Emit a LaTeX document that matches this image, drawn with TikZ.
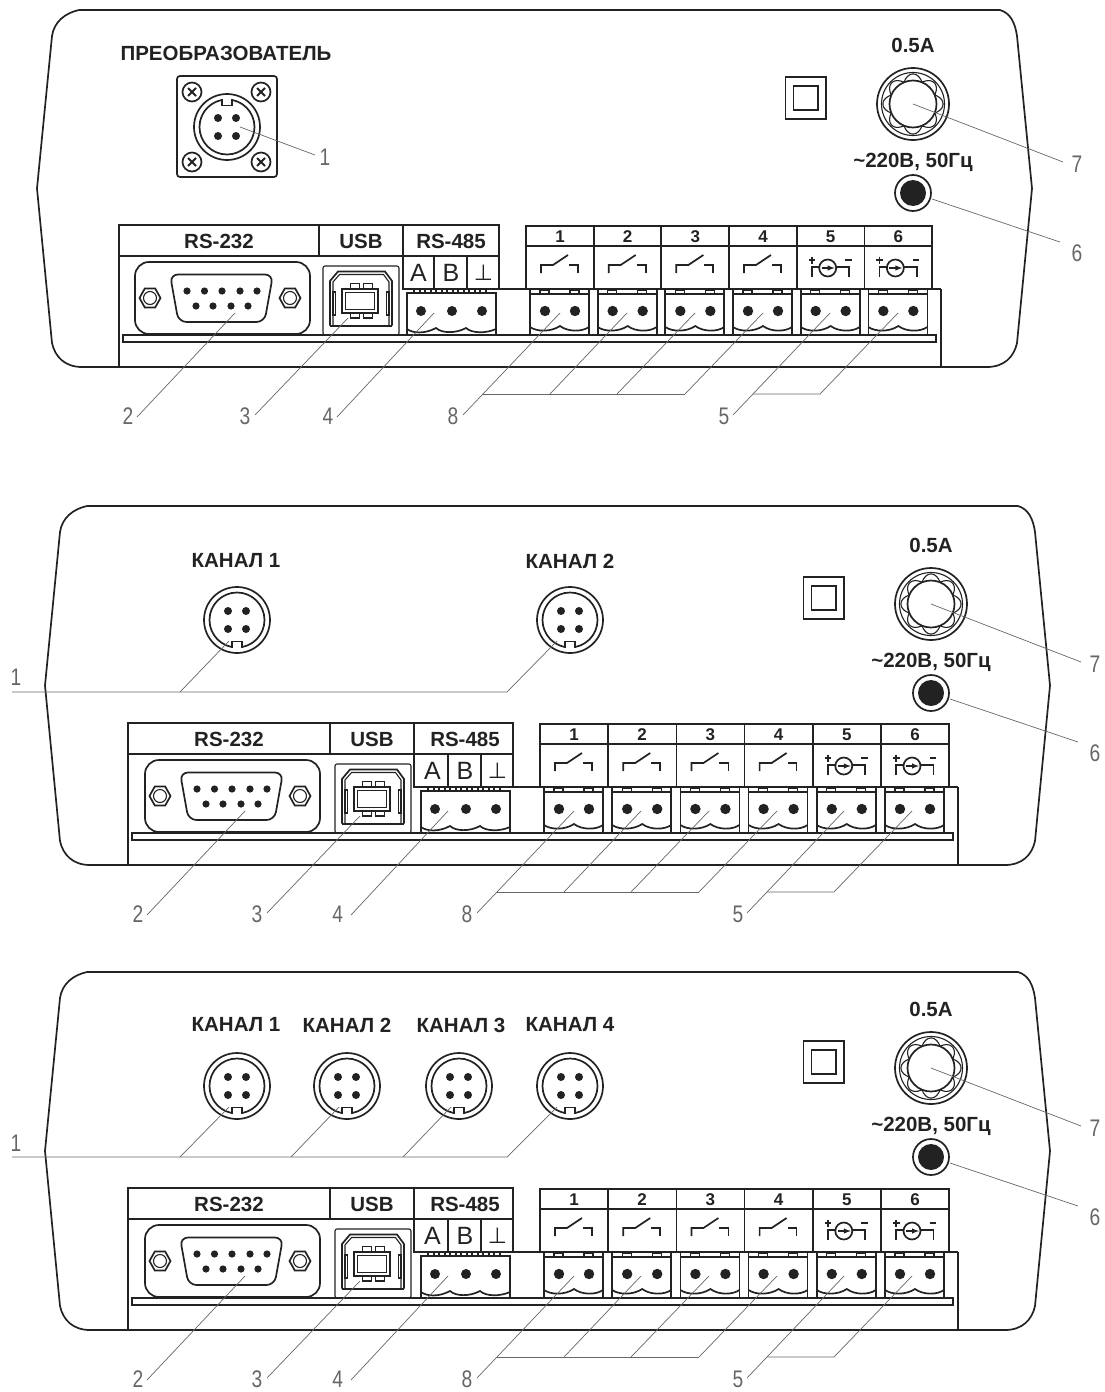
\documentclass[tikz,border=0pt]{standalone}
\usepackage{fontspec}
\setmainfont{Liberation Sans}
\newfontfamily\symf{DejaVu Sans}
\definecolor{ink}{HTML}{222222}
\definecolor{leadc}{HTML}{666666}
\tikzset{
  mainline/.style={line width=1.7pt,draw=ink},
  fineline/.style={line width=1.1pt,draw=ink},
  leadline/.style={line width=0.7pt,draw=leadc},
  pindot/.style={fill=ink,draw=none},
  titletxt/.style={font=\fontsize{20.5}{22}\selectfont\bfseries,text=ink,inner sep=0pt},
  hdrtxt/.style={font=\fontsize{20.5}{22}\selectfont\bfseries,text=ink,inner sep=0pt},
  cellnum/.style={font=\fontsize{17}{19}\selectfont\bfseries,text=ink,inner sep=0pt},
  celllet/.style={font=\fontsize{25}{27}\selectfont,text=ink,inner sep=0pt},
  numlab/.style={font=\fontsize{24}{26}\selectfont,text=leadc,inner sep=0pt,xscale=0.8},
}
% name, a, b, label position, text
\newcommand{\leader}[8]{%
  \coordinate (#1-a) at (#2,#3);
  \coordinate (#1-b) at (#4,#5);
  \node[numlab] (#1-t) at (#6,#7) {#8};
  \draw[leadline] (#1-a) -- (#1-b);
}
\newcommand{\panel}[4]{% xl ytop xr ybot
  \draw[line width=1.7pt,draw=ink]
    ({#1+42},#2) .. controls ({#1+28},{#2+3}) and ({#1+17},{#2+12}) .. ({#1+15},{#2+26})
    -- ({#1},{(#2+#4)/2})
    -- ({#1+15},{#4-24}) .. controls ({#1+18},{#4-10}) and ({#1+28},#4) .. ({#1+45},#4)
    -- ({#3-45},#4) .. controls ({#3-28},#4) and ({#3-18},{#4-10}) .. ({#3-15},{#4-24})
    -- ({#3},{(#2+#4)/2})
    -- ({#3-15},{#2+26}) .. controls ({#3-17},{#2+12}) and ({#3-22},{#2+3}) .. ({#3-32},#2)
    -- cycle;
}
\newcommand{\hexnut}[2]{%
  \begin{scope}[shift={(#1,#2)}]
    \draw[mainline] (-10.5,0) -- (-5.2,-9.5) -- (5.2,-9.5) -- (10.5,0) -- (5.2,9.5) -- (-5.2,9.5) -- cycle;
    \draw[fineline] (0,0) circle[radius=6.5];
  \end{scope}
}
\newcommand{\dsub}{%
  \draw[mainline,rounded corners=14pt] (135,262) rectangle (310,334);
  \draw[mainline,rounded corners=8pt] (170,274.5) -- (273,274.5) -- (264.5,322) -- (178.5,322) -- cycle;
  \hexnut{150}{298}\hexnut{290}{298}
  \foreach \px in {187,204.5,222,240,257} \fill[pindot] (\px,291) circle[radius=3.6];
  \foreach \px in {196,213,231,248} \fill[pindot] (\px,306) circle[radius=3.6];
}
\newcommand{\usbport}{%
  \draw[fineline,rounded corners=2pt] (323,266) rectangle (399,335);
  \draw[mainline] (330,325.5) -- (330,281) -- (338,271.5) -- (385,271.5) -- (392,281) -- (392,325.5);
  \draw[fineline] (333,325) -- (333,282) -- (339.5,274.5) -- (383.5,274.5) -- (389,282) -- (389,325);
  \draw[line width=2.2pt,draw=ink] (330,326) -- (392,326);
  \draw[line width=2.2pt,draw=ink] (342,289) rectangle (378,313);
  \draw[fineline] (345.5,292.5) rectangle (374.5,309.5);
  \foreach \ux in {350.5,363.5} {
    \draw[fineline] (\ux,283.5) rectangle ++(9,5.5);
    \draw[fineline] (\ux,313) rectangle ++(9,5);
  }
  \draw[fineline] (333,292) rectangle (335.5,315);
  \draw[fineline] (386.5,292) rectangle (389,315);
}
\newcommand{\termthree}{%
  \draw[mainline] (407,293) rectangle (496,335);
  \draw[mainline] (407,329) .. controls (413,333.5) and (425,334) .. (436,328)
     .. controls (442,333.5) and (456,333.5) .. (466,328)
     .. controls (472,333.5) and (486,333.5) .. (496,329);
  \foreach \tx in {414,425,436,447,458,469,480} \draw[fineline] (\tx,289.5) rectangle ++(6,3.5);
  \foreach \tx in {421,452,482} \fill[pindot] (\tx,311) circle[radius=5];
}
\newcommand{\termtwo}{% at first column, panel 1 coordinates
  \draw[mainline] (530,289) -- (530,335) -- (589,335) -- (589,289);
  \draw[mainline] (530,294) -- (589,294);
  \draw[mainline] (530,327) .. controls (537,332) and (551,332) .. (560,326)
     .. controls (568,332) and (582,332) .. (589,327);
  \draw[fineline] (540,290) rectangle ++(9,4);
  \draw[fineline] (570,290) rectangle ++(9,4);
  \fill[pindot] (545,311) circle[radius=5.2];
  \fill[pindot] (575,311) circle[radius=5.2];
}
\newcommand{\relaysym}{% local to cell top-left at y=246
  \draw[mainline] (15,27) -- (15,19) -- (27,19) -- (42,9);
  \draw[mainline] (43,19) -- (52,19) -- (52,27);
}
\newcommand{\csrcsym}{%
  \draw[mainline] (31,22) circle[radius=8.5];
  \draw[mainline] (15,31) -- (15,21) -- (22.5,21);
  \draw[mainline] (39.5,21) -- (52.5,21) -- (52.5,31);
  \draw[line width=1.4pt,draw=ink,-latex] (25,22) -- (38,22);
  \draw[line width=1.8pt,draw=ink] (12,14) -- (18.5,14) (15.2,10.5) -- (15.2,17.5);
  \draw[line width=1.8pt,draw=ink] (48.5,14) -- (55,14);
}
% #1 dy, #2 left edge, #3 split RS232/USB, #4 dsub dx, #5 usb dx, #6 dx, #7 right edge, #8 prefix
% uses \rsleft (left edge of the RS-485 box, panel coordinates) and \cstep (cell pitch)
\newcommand{\ioblock}[8]{%
\begin{scope}[shift={(0,#1)}]
  \draw[mainline] (#2,367) -- (#2,225) -- (#3,225);
  \draw[mainline] (#2,256) -- (#3,256) (#3,225) -- (#3,256);
  \node[hdrtxt] (#8-hr) at ({(#2+#3)/2},241) {RS-232};
  \begin{scope}[shift={(#4,0)}]\dsub\end{scope}
  \begin{scope}[shift={(#5,0)}]\usbport\end{scope}
  \draw[mainline] (#3,225) -- (\rsleft,225) (#3,256) -- (\rsleft,256);
  \draw[mainline,line width=1.8pt] ({#2+4},335) rectangle ({#7-5},342);
  \draw[mainline] (#7,367) -- (#7,289);
  \node[hdrtxt] (#8-hu) at ({(#3+\rsleft)/2},241) {USB};
  \draw[mainline] (\rsleft,225) rectangle ({500+#6-1},256);
  \draw[mainline] (\rsleft,256) rectangle ({500+#6-1},289);
  \begin{scope}[shift={(#6,0)}]
    \draw[mainline] ({435-1},256) -- ({435-1},289) (467,256) -- (467,289);
    \node[hdrtxt] (#8-h5) at (451,241) {RS-485};
    \node[celllet] (#8-ca) at (418.5,273) {A};
    \node[celllet] (#8-cb) at (451,273) {B};
    \node[celllet,font=\fontsize{22}{24}\selectfont\symf] (#8-cc) at (483.5,273) {⊥};
    \termthree
    \draw[mainline] (496,289) -- (526,289);
    \draw[mainline] (526,226) -- ({526+6*\cstep},226) -- ({526+6*\cstep},289) -- (526,289) -- cycle;
    \draw[mainline] (526,246) -- ({526+6*\cstep},246);
    \foreach \i in {0,...,5} {
      \pgfmathtruncatemacro{\cn}{\i+1}
      \begin{scope}[shift={({\cstep*\i},0)}]
        \termtwo
        \draw[mainline] (526,226) -- (526,289);
        \node[cellnum] (#8-n\cn) at (560,236.5) {\cn};
        \begin{scope}[shift={(526,246)}]
          \ifnum\i<4 \relaysym \else \csrcsym \fi
        \end{scope}
      \end{scope}
    }
    \draw[mainline] ({526+6*\cstep},289) -- ({#7-#6},289);
  \end{scope}
  % leaders
  \begin{scope}[shift={(#4,0)}]
    \leader{#8-2}{235}{313}{137}{417}{128}{416}{2}
  \end{scope}
  \begin{scope}[shift={(#5,0)}]
    \leader{#8-3}{348}{318}{255}{415}{245}{416}{3}
  \end{scope}
  \begin{scope}[shift={(#6,0)}]
    \leader{#8-4}{434}{313}{337}{417}{{328-0.3*#6}}{416}{4}
    \leader{#8-8}{560}{313}{463}{415}{453}{416}{8}
    \coordinate (#8-8r) at (685,394);
    \coordinate (#8-8l) at (483,394);
    \coordinate (#8-8b) at (550,394);
    \coordinate (#8-8c) at (617,394);
    \coordinate (#8-8p) at (627,313);
    \coordinate (#8-8q) at (695,313);
    \coordinate (#8-8s) at (763,313);
    \draw[leadline] (#8-8l) -- (#8-8r);
    \draw[leadline] (#8-8p) -- (#8-8b);
    \draw[leadline] (#8-8q) -- (#8-8c);
    \draw[leadline] (#8-8s) -- (#8-8r);
    \leader{#8-5}{830}{313}{733}{415}{724}{416}{5}
    \coordinate (#8-5l) at (753,394);
    \coordinate (#8-5r) at (820,394);
    \coordinate (#8-5p) at (898,313);
    \draw[leadline] (#8-5l) -- (#8-5r) -- (#8-5p);
  \end{scope}
\end{scope}
}
% fuse, symbol, socket; #1 cx #2 cy #3 prefix
\newcommand{\powerset}[3]{%
\begin{scope}[shift={(#1,#2)}]
  \node[titletxt] (#3-fu) at (0,-59) {0.5A};
  \node[titletxt] (#3-ac) at (0,58) {\textasciitilde220В, 50Гц};
  \draw[mainline] (0,0) circle[radius=36];
  \draw[fineline] (0,0) circle[radius=31.5];
  \draw[fineline] plot[domain=0:360,samples=241] ({(23.5+6.5*abs(cos(4*\x)))*cos(\x)},{(23.5+6.5*abs(cos(4*\x)))*sin(\x)}) -- cycle;
  \draw[mainline,fill=white] (0,0) circle[radius=23.5];
  \draw[mainline] (-127.5,-27) rectangle (-87,15);
  \draw[mainline] (-119.5,-18) rectangle (-95,6);
  \draw[mainline] (0,89) circle[radius=18];
  \fill[pindot] (0,89) circle[radius=13];
  \leader{#3-7}{0}{0}{150}{58}{164}{60}{7}
  \leader{#3-6}{19}{95}{147}{138}{164}{149}{6}
\end{scope}
}
% circular connector: x y rotate
\newcommand{\chan}[3]{%
\begin{scope}[shift={(#1,#2)},rotate=#3]
  \draw[mainline] (0,0) circle[radius=33];
  \draw[mainline] (0,0) circle[radius=27.5];
  \fill[white] (-4.5,21) rectangle (4.5,31);
  \draw[mainline] (-5,28) -- (-5,21.5) -- (5,21.5) -- (5,28);
  \foreach \sx in {-9,9} \foreach \sy in {-9,9} \fill[pindot] (\sx,\sy) circle[radius=4];
\end{scope}
}
\newcommand{\screw}[2]{%
\begin{scope}[shift={(#1,#2)}]
  \draw[mainline] (0,0) circle[radius=9.5];
  \draw[line width=1.9pt,draw=ink] (-4,-4) -- (4,4) (-4,4) -- (4,-4);
\end{scope}
}
\begin{document}
\begin{tikzpicture}[x=1pt,y=-1pt]
\useasboundingbox (0,0) rectangle (1105,1392);
% ---------- panel 1
\panel{37}{10}{1032}{367}
\node[titletxt] (t-pre) at (226,53) {ПРЕОБРАЗОВАТЕЛЬ};
\draw[mainline,rounded corners=3pt] (177,76) rectangle (277,177);
\screw{192}{92}\screw{261}{92}\screw{192}{162}\screw{261}{162}
\chan{227}{127}{180}
\leader{a-1}{240}{127}{315}{155}{325}{157}{1}
\powerset{913}{104}{a}
\def\rsleft{403}\def\cstep{67.67}
\ioblock{0}{119}{319}{0}{0}{0}{941}{a}
% ---------- panel 2
\panel{45}{506}{1050}{865}
\node[titletxt] (t-k1) at (236,561) {КАНАЛ 1};
\node[titletxt] (t-k2) at (570,561) {КАНАЛ 2};
\chan{237}{620}{0}
\chan{570}{620}{0}
\coordinate (b-1a) at (12,692);
\coordinate (b-1b) at (507,692);
\coordinate (b-1c) at (180,692);
\coordinate (b-1d) at (229,641);
\coordinate (b-1e) at (557,641);
\node[numlab] (b-1t) at (16,677) {1};
\draw[leadline] (b-1a) -- (b-1b) -- (b-1e);
\draw[leadline] (b-1c) -- (b-1d);
\powerset{931}{604}{b}
\def\rsleft{414}\def\cstep{68.2}
\ioblock{498}{128}{330}{10}{12}{14}{958}{b}
% ---------- panel 3
\panel{45}{972}{1050}{1330}
\node[titletxt] (t-c1) at (236,1025) {КАНАЛ 1};
\node[titletxt] (t-c2) at (347,1025) {КАНАЛ 2};
\node[titletxt] (t-c3) at (461,1025) {КАНАЛ 3};
\node[titletxt] (t-c4) at (570,1025) {КАНАЛ 4};
\chan{237}{1086}{0}
\chan{347}{1086}{0}
\chan{459}{1086}{0}
\chan{570}{1086}{0}
\coordinate (c-1a) at (12,1157);
\coordinate (c-1b) at (507,1157);
\coordinate (c-1c) at (180,1157);
\coordinate (c-1d) at (229,1107);
\coordinate (c-1e) at (291,1157);
\coordinate (c-1f) at (339,1107);
\coordinate (c-1g) at (403,1157);
\coordinate (c-1h) at (451,1107);
\coordinate (c-1i) at (557,1107);
\node[numlab] (c-1t) at (16,1143) {1};
\draw[leadline] (c-1a) -- (c-1b) -- (c-1i);
\draw[leadline] (c-1c) -- (c-1d);
\draw[leadline] (c-1e) -- (c-1f);
\draw[leadline] (c-1g) -- (c-1h);
\powerset{931}{1068}{c}
\ioblock{963}{128}{330}{10}{12}{14}{958}{c}
\end{tikzpicture}
\end{document}
